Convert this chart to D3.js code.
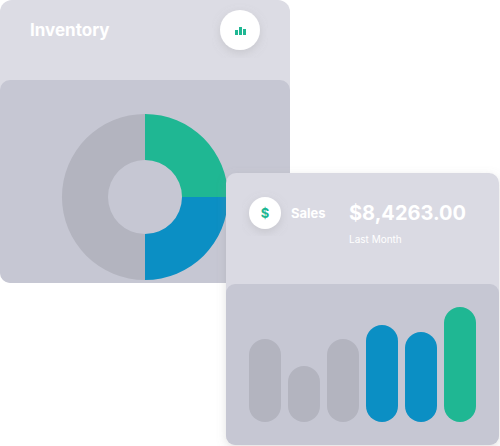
<!DOCTYPE html><html><head><script src="https://cdn.jsdelivr.net/npm/d3@7"></script>
<style>body{margin:0;background:#fff}svg{display:block}text{font-family:Inter,"Open Sans",sans-serif}</style></head><body><script>
const donutLabels=["Other","Stock A","Stock B"];
const donutValues=[50,25,25];
const donutColors=["#b3b4bf","#1fb793","#0b8fc4"];
const barCats=["1","2","3","4","5","6"];
const barValues=[83,56,83,97,90,115];
const barColors=["#b3b4bf","#b3b4bf","#b3b4bf","#0b8fc4","#0b8fc4","#1fb793"];
const svg=d3.select("body").append("svg").attr("width",500).attr("height",446);
const defs=svg.append("defs");
const f=defs.append("filter").attr("id","sh").attr("x","-20%").attr("y","-20%").attr("width","140%").attr("height","140%");
f.append("feDropShadow").attr("dx",0).attr("dy",3).attr("stdDeviation",5).attr("flood-color","#888").attr("flood-opacity",0.25);
const L=svg.append("g");
L.append("rect").attr("x",0).attr("y",0).attr("width",290).attr("height",283).attr("rx",12).attr("fill","#dcdce4");
L.append("rect").attr("x",0).attr("y",80).attr("width",290).attr("height",203).attr("rx",10).attr("fill","#c6c7d3");
L.append("text").attr("x",30).attr("y",36).attr("fill","#fff").attr("font-size",17).attr("font-weight",700).text("Inventory");
L.append("circle").attr("cx",240).attr("cy",30).attr("r",20).attr("fill","#fff").attr("filter","url(#sh)");
[[0,5],[4,8],[8,6]].forEach(([dx,h])=>L.append("rect").attr("x",235+dx).attr("y",35-h).attr("width",3).attr("height",h).attr("fill","#1fb793"));
const pie=d3.pie().sort(null).startAngle(0).endAngle(2*Math.PI);
const order=[1,2,0];
const arcs=pie(order.map(i=>donutValues[i]));
const arc=d3.arc().innerRadius(37).outerRadius(83);
L.append("g").attr("transform","translate(145,197)").selectAll("path").data(arcs).join("path").attr("d",arc).attr("fill",(d,i)=>donutColors[order[i]]);
const R=svg.append("g");
R.append("rect").attr("x",226).attr("y",173).attr("width",273).attr("height",272).attr("rx",10).attr("fill","#dadae3").attr("filter","url(#sh)");
R.append("rect").attr("x",226).attr("y",284).attr("width",273).attr("height",161).attr("rx",9).attr("fill","#c6c7d3");
R.append("circle").attr("cx",265).attr("cy",213).attr("r",16).attr("fill","#fff").attr("filter","url(#sh)");
R.append("text").attr("x",265).attr("y",218).attr("text-anchor","middle").attr("fill","#1fb793").attr("font-size",13).attr("font-weight",700).text("$");
R.append("text").attr("x",291).attr("y",218).attr("fill","#fff").attr("font-size",13).attr("font-weight",700).text("Sales");
R.append("text").attr("x",349).attr("y",220).attr("fill","#fff").attr("font-size",20).attr("font-weight",700).text("$8,4263.00");
R.append("text").attr("x",349).attr("y",243).attr("fill","#fff").attr("font-size",10).text("Last Month");
const x=d3.scaleBand().domain(barCats).range([249,476]).paddingInner(0.18).paddingOuter(0);
const y=d3.scaleLinear().domain([0,115]).range([422,307]);
R.append("g").selectAll("rect").data(barValues).join("rect")
 .attr("x",(d,i)=>x(barCats[i])).attr("width",x.bandwidth()).attr("y",d=>y(d)).attr("height",d=>y(0)-y(d))
 .attr("rx",x.bandwidth()/2).attr("fill",(d,i)=>barColors[i]);
</script></body></html>
